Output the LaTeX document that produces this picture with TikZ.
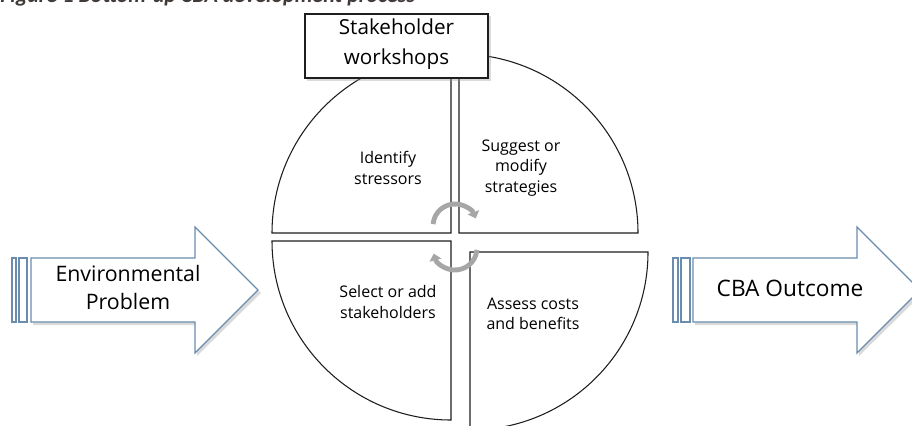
\documentclass[tikz,border=0pt]{standalone}
\usepackage{fontspec}
\setmainfont{Open Sans}
\newfontfamily\captionfont{Carlito}
\usetikzlibrary{arrows.meta}

\tikzset{
  quarter/.style={draw={rgb,255:red,30;green,30;blue,30}, line width=0.8, fill=white},
  blockarrow/.style={draw={rgb,255:red,105;green,140;blue,175}, line width=0.9, fill=white},
  softshadow/.style={fill={rgb,255:red,150;green,150;blue,150}, opacity=0.35, draw=none},
  cyclearrow/.style={draw={rgb,255:red,166;green,166;blue,166}, line width=3.6, -{Triangle[length=5pt,width=9pt]}},
  quartertext/.style={align=center, font=\fontsize{12}{15.5}\selectfont, inner sep=0.75pt},
  bigtext/.style={align=center, font=\fontsize{16}{21}\selectfont, inner sep=0.75pt}
}

\begin{document}
\begin{tikzpicture}[x=0.75pt,y=0.75pt,yscale=-1,xscale=1]
\clip (0,0) rectangle (912,425);
\useasboundingbox (0,0) rectangle (912,425);

% Caption (cut at the top)
\node (caption) [anchor=base west, inner sep=0pt, text={rgb,255:red,64;green,58;blue,56}] at (0,2.5) {\captionfont\fontsize{16.5}{18}\selectfont\bfseries\itshape Figure 1 Bottom-up CBA development process};

%Shape: quarters of the wheel
\draw [quarter] (451,233) -- (272,233) arc [start angle=180, end angle=270, radius=179] -- cycle;
\draw [quarter] (459,233) -- (459,54) arc [start angle=270, end angle=360, radius=179] -- cycle;
\draw [quarter] (451,241) -- (272,241) arc [start angle=180, end angle=90, radius=179] -- cycle;
\draw [quarter] (470,252) -- (648,252) arc [start angle=0, end angle=90, radius=178] -- cycle;

%Shape: circular arrows
\draw [cyclearrow] (455,226) ++(185:22) arc [start angle=185, end angle=340, radius=22];
\draw [cyclearrow] (455,248) ++(5:22) arc [start angle=5, end angle=165, radius=22];

%Shape: workshop box
\fill [softshadow] (307,16) rectangle (491,81);
\draw [quarter] (305,14) rectangle (488,78);
\node (workshops) [bigtext, font=\fontsize{15.5}{22.5}\selectfont] at (396.5,44) {Stakeholder\\workshops};

%Shape: left block arrow
\fill [softshadow] (33,261) -- (197,261) -- (197,230) -- (261,293) -- (197,356) -- (197,325) -- (33,325) -- cycle;
\draw [blockarrow] (12,258) rectangle (16,322);
\draw [blockarrow] (19,258) rectangle (27,322);
\draw [blockarrow] (31,258) -- (195,258) -- (195,227) -- (258,290) -- (195,353) -- (195,322) -- (31,322) -- cycle;

%Shape: right block arrow
\fill [softshadow] (695,261) -- (859,261) -- (859,230) -- (923,293) -- (859,356) -- (859,325) -- (695,325) -- cycle;
\draw [blockarrow] (673,258) rectangle (678,322);
\draw [blockarrow] (681,258) rectangle (690,322);
\draw [blockarrow] (693,258) -- (857,258) -- (857,227) -- (920,290) -- (857,353) -- (857,322) -- (693,322) -- cycle;

% Text Node
\node (problem) [bigtext] at (128,287) {Environmental\\Problem};
% Text Node
\node (outcome) [bigtext, font=\fontsize{17}{21}\selectfont] at (790,288) {CBA Outcome};
% Text Node
\node (stressors) [quartertext] at (388,168) {Identify\\stressors};
% Text Node
\node (strategies) [quartertext] at (521,168) {Suggest or\\modify\\strategies};
% Text Node
\node (stakeholders) [quartertext] at (388,302) {Select or add\\stakeholders};
% Text Node
\node (costs) [quartertext] at (533,314) {Assess costs\\and benefits};

\end{tikzpicture}
\end{document}
